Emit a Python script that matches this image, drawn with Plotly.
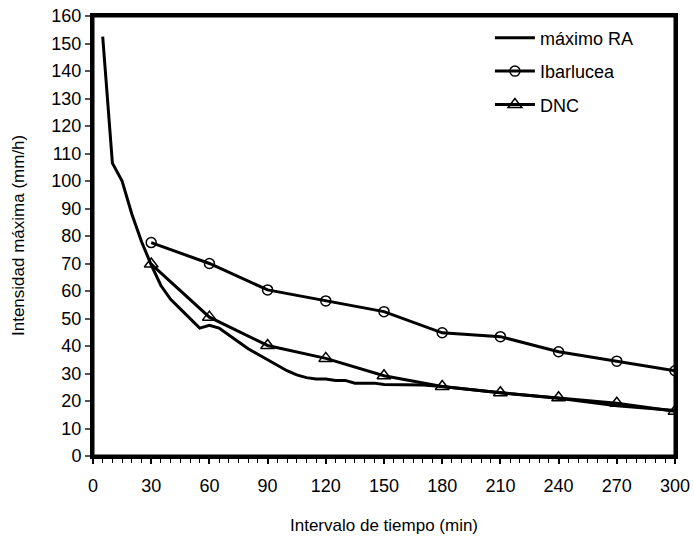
import plotly.graph_objects as go

# máximo RA (curva envolvente)
t_ra = [5, 10, 15, 20, 25, 30, 35, 40, 45, 50, 55, 60, 65, 70, 75, 80, 85, 90, 95, 100,
        105, 110, 115, 120, 125, 130, 135, 140, 145, 150, 160, 170, 180, 210, 240, 270, 300]
i_ra = [152.5, 106.5, 100, 88, 78, 69.5, 62, 57, 53.5, 50, 46.5, 47.5, 46.5, 44, 41.5, 39, 37, 35, 33, 31,
        29.5, 28.5, 28, 28, 27.5, 27.5, 26.5, 26.5, 26.5, 26, 26, 25.8, 25.3, 23, 21, 18.3, 16.5]

t_ib = [30, 60, 90, 120, 150, 180, 210, 240, 270, 300]
i_ib = [77.6, 70, 60.4, 56.4, 52.5, 44.8, 43.4, 37.9, 34.5, 31]

t_dnc = [30, 60, 90, 120, 150, 180, 210, 240, 270, 300]
i_dnc = [69.8, 50.5, 40.2, 35.5, 29.2, 25.3, 23, 21.2, 19.2, 16.3]

x_ticks = [0, 30, 60, 90, 120, 150, 180, 210, 240, 270, 300]
y_ticks = list(range(0, 161, 10))

FONT = "Liberation Sans, Arial, sans-serif"
FS = 18

fig = go.Figure()
fig.add_trace(go.Scatter(x=t_ra, y=i_ra, mode="lines", name="máximo RA",
                         line=dict(color="black", width=3), legendgroup="a"))
fig.add_trace(go.Scatter(x=t_ib, y=i_ib, mode="lines+markers", name="Ibarlucea",
                         line=dict(color="black", width=3),
                         marker=dict(symbol="circle-open", size=10, color="black", line=dict(width=1.5)),
                         legendgroup="b"))
fig.add_trace(go.Scatter(x=t_dnc, y=i_dnc, mode="lines+markers", name="DNC",
                         line=dict(color="black", width=3),
                         marker=dict(symbol="triangle-up-open", size=12, color="black", line=dict(width=1.5)),
                         legendgroup="c"))

fig.update_layout(
    width=694, height=542,
    margin=dict(l=93, r=19, t=16, b=86, autoexpand=False),
    plot_bgcolor="white", paper_bgcolor="white",
    font=dict(family=FONT, size=FS, color="black"),
    showlegend=True,
    legend=dict(x=0.682, y=0.992, xanchor="left", yanchor="top",
                bgcolor="rgba(0,0,0,0)", font=dict(size=FS), tracegroupgap=7,
                itemwidth=40),
    xaxis=dict(range=[0, 300], tickvals=x_ticks, ticktext=[str(v) for v in x_ticks],
               ticks="outside", ticklen=5, tickwidth=1.5, tickcolor="black",
               minor=dict(dtick=5, ticks="outside", ticklen=4, tickwidth=1, tickcolor="black"),
               showline=True, linewidth=3, linecolor="black", mirror=True,
               showgrid=False, zeroline=False, automargin=False, ticklabelstandoff=6),
    xaxis2=dict(range=[0, 300], overlaying="x", matches="x", anchor="y",
                tickvals=x_ticks, ticks="inside", ticklen=5, tickwidth=1.5, tickcolor="black",
                minor=dict(dtick=5, ticks="inside", ticklen=4, tickwidth=1, tickcolor="black"),
                showticklabels=False, showgrid=False, zeroline=False, showline=False,
                side="bottom", automargin=False),
    yaxis=dict(range=[0, 160], tickvals=y_ticks, ticks="outside", ticklen=5, tickwidth=1.5,
               tickcolor="#555555",
               showline=True, linewidth=3, linecolor="black", mirror=True,
               showgrid=False, zeroline=False, automargin=False),
    shapes=[dict(type="rect", xref="paper", yref="paper", x0=0, y0=0, x1=1, y1=1,
                 line=dict(color="black", width=3), fillcolor="rgba(0,0,0,0)", layer="above")],
    annotations=[
        dict(text="Intervalo de tiempo (min)", xref="paper", yref="paper",
             x=0.5, y=0, yshift=-69, xanchor="center", yanchor="middle",
             showarrow=False, font=dict(size=17)),
        dict(text="Intensidad máxima (mm/h)", xref="paper", yref="paper",
             x=0, y=0.5, xshift=-75, xanchor="center", yanchor="middle",
             textangle=-90, showarrow=False, font=dict(size=17)),
    ],
)

fig.write_html("out.html",
               config={"displayModeBar": False},
               post_script="document.body.style.margin='0';document.body.style.overflow='hidden';")
